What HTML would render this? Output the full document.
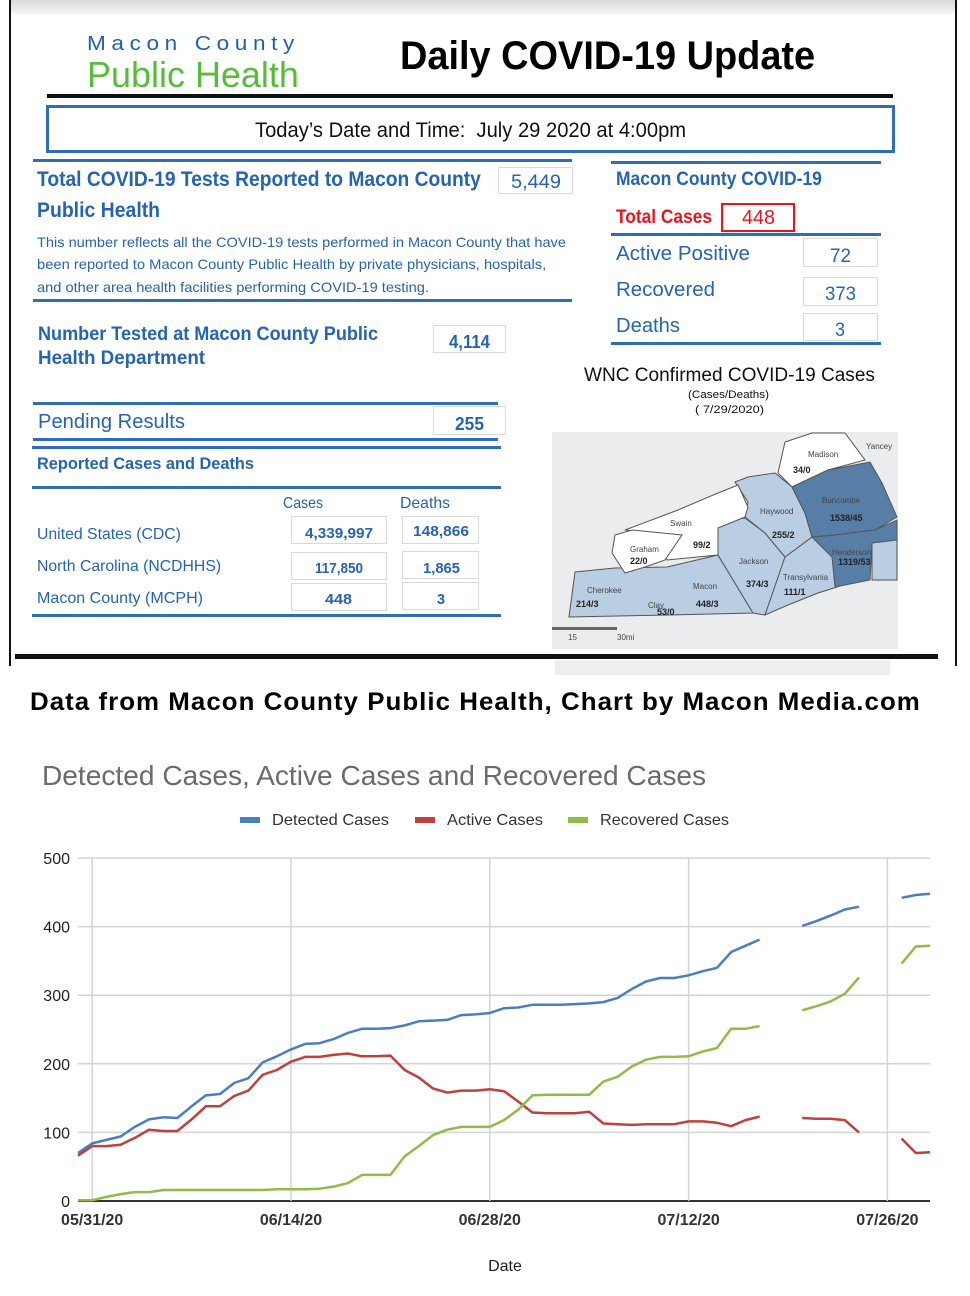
<!DOCTYPE html>
<html><head><meta charset="utf-8">
<style>
html,body{margin:0;padding:0;background:#fff;}
#root{position:relative;width:970px;height:1296px;overflow:hidden;background:#fff;font-family:"Liberation Sans",sans-serif;}
.t{position:absolute;white-space:nowrap;transform-origin:0 50%;line-height:1;}
.b{position:absolute;}
.box{position:absolute;border:1.5px solid #d6d9de;background:#fff;box-sizing:border-box;}
.blue{color:#2563b3;}
.hl{position:absolute;height:3px;background:#2e6db8;}
</style></head>
<body>
<div id="root">
  <div class="b" style="left:10px;top:0;width:945px;height:14px;background:linear-gradient(#d8d8d8,#f6f6f6)"></div>
  <div class="b" style="left:9px;top:0;width:2px;height:666px;background:#111"></div>
  <div class="b" style="left:955px;top:0;width:2px;height:666px;background:#111"></div>

  <div class="t" data-fit="213" style="left:87px;top:34px;font-size:20px;color:#2160b0;letter-spacing:5px">Macon County</div>
  <div class="t" data-fit="212" style="left:87px;top:57px;font-size:36px;color:#56bd3a">Public Health</div>
  <div class="t" data-fit="415" style="left:400px;top:36px;font-size:40px;font-weight:bold;color:#000">Daily COVID-19 Update</div>
  <div class="b" style="left:47px;top:94px;width:846px;height:4px;background:#111"></div>
  <div class="b" style="left:46px;top:105px;width:849px;height:48px;border:3px solid #2e6db8;box-sizing:border-box"></div>
  <div class="t" data-fit="431" style="left:255px;top:120px;font-size:21px;color:#111">Today’s Date and Time:&nbsp; July 29 2020 at 4:00pm</div>

  <div class="hl" style="left:33px;top:159px;width:539px"></div>
  <div class="t blue" data-fit="444" style="left:37px;top:169px;font-size:21px;font-weight:bold">Total COVID-19 Tests Reported to Macon County</div>
  <div class="box" style="left:498px;top:167px;width:75px;height:27px"></div>
  <div class="t blue" data-fit="50" style="left:511px;top:173px;font-size:19px">5,449</div>
  <div class="t blue" data-fit="123" style="left:37px;top:200px;font-size:21px;font-weight:bold">Public Health</div>
  <div class="t blue" data-fit="529" style="left:37px;top:235px;font-size:14px">This number reflects all the COVID-19 tests performed in Macon County that have</div>
  <div class="t blue" data-fit="509" style="left:37px;top:257px;font-size:14px">been reported to Macon County Public Health by private physicians, hospitals,</div>
  <div class="t blue" data-fit="392" style="left:37px;top:280px;font-size:14px">and other area health facilities performing COVID-19 testing.</div>
  <div class="hl" style="left:33px;top:299px;width:539px"></div>

  <div class="hl" style="left:611px;top:161px;width:270px"></div>
  <div class="t blue" data-fit="206" style="left:616px;top:170px;font-size:19px;font-weight:bold">Macon County COVID-19</div>
  <div class="t" data-fit="96" style="left:616px;top:208px;font-size:19px;font-weight:bold;color:#e8151b">Total Cases</div>
  <div class="b" style="left:721px;top:203px;width:74px;height:29px;border:2px solid #e8151b;box-sizing:border-box"></div>
  <div class="t" data-fit="33" style="left:742px;top:208px;font-size:20px;color:#e8151b">448</div>
  <div class="hl" style="left:611px;top:233px;width:270px"></div>
  <div class="t blue" data-fit="134" style="left:616px;top:244px;font-size:20px">Active Positive</div>
  <div class="box" style="left:803px;top:238px;width:75px;height:29px"></div>
  <div class="t blue" data-fit="21" style="left:830px;top:247px;font-size:19px">72</div>
  <div class="t blue" data-fit="99" style="left:616px;top:280px;font-size:20px">Recovered</div>
  <div class="box" style="left:803px;top:277px;width:75px;height:29px"></div>
  <div class="t blue" data-fit="31" style="left:825px;top:285px;font-size:19px">373</div>
  <div class="t blue" data-fit="64" style="left:616px;top:316px;font-size:20px">Deaths</div>
  <div class="box" style="left:803px;top:313px;width:75px;height:28px"></div>
  <div class="t blue" data-fit="10" style="left:835px;top:321px;font-size:19px">3</div>
  <div class="hl" style="left:611px;top:342px;width:270px"></div>

  <div class="t blue" data-fit="340" style="left:38px;top:325px;font-size:19px;font-weight:bold">Number Tested at Macon County Public</div>
  <div class="t blue" data-fit="167" style="left:38px;top:349px;font-size:19px;font-weight:bold">Health Department</div>
  <div class="box" style="left:433px;top:325px;width:73px;height:28px"></div>
  <div class="t blue" data-fit="41" style="left:449px;top:333px;font-size:18px;font-weight:bold">4,114</div>

  <div class="hl" style="left:33px;top:402px;width:465px"></div>
  <div class="t blue" data-fit="147" style="left:38px;top:412px;font-size:20px">Pending Results</div>
  <div class="box" style="left:433px;top:406px;width:73px;height:29px"></div>
  <div class="t blue" data-fit="29" style="left:455px;top:415px;font-size:18px;font-weight:bold">255</div>
  <div class="hl" style="left:33px;top:438px;width:465px"></div>
  <div class="hl" style="left:32px;top:446px;width:469px"></div>
  <div class="t blue" data-fit="217" style="left:37px;top:455px;font-size:17px;font-weight:bold">Reported Cases and Deaths</div>
  <div class="hl" style="left:32px;top:486px;width:469px"></div>
  <div class="t blue" data-fit="40" style="left:283px;top:496px;font-size:16px">Cases</div>
  <div class="t blue" data-fit="50" style="left:400px;top:496px;font-size:16px">Deaths</div>

  <div class="t blue" data-fit="144" style="left:37px;top:527px;font-size:16px">United States (CDC)</div>
  <div class="t blue" data-fit="184" style="left:37px;top:559px;font-size:16px">North Carolina (NCDHHS)</div>
  <div class="t blue" data-fit="166" style="left:37px;top:591px;font-size:16px">Macon County (MCPH)</div>
  <div class="box" style="left:291px;top:516px;width:96px;height:28px"></div>
  <div class="box" style="left:402px;top:516px;width:77px;height:28px"></div>
  <div class="box" style="left:291px;top:552px;width:96px;height:28px"></div>
  <div class="box" style="left:402px;top:551px;width:77px;height:28px"></div>
  <div class="box" style="left:291px;top:583px;width:96px;height:28px"></div>
  <div class="box" style="left:402px;top:582px;width:77px;height:28px"></div>
  <div class="t blue" data-fit="68" style="left:305px;top:526px;font-size:15px;font-weight:bold">4,339,997</div>
  <div class="t blue" data-fit="56" style="left:413px;top:524px;font-size:15px;font-weight:bold">148,866</div>
  <div class="t blue" data-fit="48" style="left:315px;top:561px;font-size:15px;font-weight:bold">117,850</div>
  <div class="t blue" data-fit="37" style="left:423px;top:561px;font-size:15px;font-weight:bold">1,865</div>
  <div class="t blue" data-fit="27" style="left:325px;top:592px;font-size:15px;font-weight:bold">448</div>
  <div class="t blue" data-fit="8" style="left:437px;top:592px;font-size:15px;font-weight:bold">3</div>
  <div class="hl" style="left:32px;top:614px;width:469px"></div>

  <div class="t" data-fit="291" style="left:584px;top:366px;font-size:19px;color:#111">WNC Confirmed COVID-19 Cases</div>
  <div class="t" data-fit="81" style="left:688px;top:390px;font-size:11px;color:#111">(Cases/Deaths)</div>
  <div class="t" data-fit="69" style="left:695px;top:405px;font-size:11px;color:#111">( 7/29/2020)</div>
  <svg class="b" style="left:0;top:0" width="970" height="700">
    <rect x="552" y="432" width="346" height="217" fill="#ebeced"/>
    <rect x="555" y="660" width="335" height="15" fill="#eeeeee"/>
    <g stroke="#555" stroke-width="1">
      <polygon fill="#ffffff" points="778,473 785,442 812,433 845,433 865,460 828,470 792,487"/>
      <polygon fill="#b9cee2" points="569,617 575,572 615,568 667,567 718,555 753,613 669,615"/>
      <polygon fill="#b9cee2" points="718,555 718,528 732,520 745,518 765,533 785,557 775,587 765,615 753,613"/>
      <polygon fill="#b9cee2" points="785,557 812,537 832,557 837,587 818,593 788,605 765,615"/>
      <polygon fill="#b9cee2" points="735,482 748,477 775,473 792,487 805,513 812,537 785,557 765,533 745,517 748,502"/>
      <polygon fill="#577ea6" points="792,487 828,470 870,462 882,483 897,517 875,530 835,535 812,537 805,513"/>
      <polygon fill="#577ea6" points="812,537 835,535 875,530 897,520 897,540 872,543 870,580 835,587 832,557"/>
      <polygon fill="#b9cee2" points="872,543 897,540 897,580 872,580"/>
      <polygon fill="#ffffff" points="625,530 678,510 718,493 738,485 748,507 745,517 718,528 718,555 667,560 665,552 682,535"/>
      <polygon fill="#ffffff" points="615,535 632,530 682,535 665,560 645,567 625,573 612,553"/>
    </g>
    <g font-family="Liberation Sans,sans-serif" font-size="8" fill="#444">
      <text x="808" y="457">Madison</text><text x="866" y="449">Yancey</text>
      <text x="822" y="503">Buncombe</text><text x="760" y="514">Haywood</text>
      <text x="670" y="526">Swain</text><text x="630" y="552">Graham</text>
      <text x="739" y="564">Jackson</text><text x="783" y="580">Transylvania</text>
      <text x="832" y="555">Henderson</text><text x="587" y="593">Cherokee</text>
      <text x="693" y="589">Macon</text><text x="648" y="608">Clay</text>
      <text x="568" y="640">15</text><text x="617" y="640">30mi</text>
    </g>
    <g font-family="Liberation Sans,sans-serif" font-size="9" font-weight="bold" fill="#222">
      <text x="793" y="473">34/0</text><text x="830" y="521">1538/45</text>
      <text x="772" y="538">255/2</text><text x="693" y="548">99/2</text>
      <text x="630" y="564">22/0</text><text x="746" y="587">374/3</text>
      <text x="784" y="595">111/1</text><text x="838" y="565">1319/53</text>
      <text x="576" y="607">214/3</text><text x="696" y="607">448/3</text>
      <text x="657" y="615">53/0</text>
    </g>
    <rect x="552" y="627" width="65" height="3" fill="#666"/>
  </svg>
  <div class="b" style="left:15px;top:654px;width:923px;height:5px;background:#111"></div>

  <div class="t" data-fit="891" style="left:30px;top:690px;font-size:25px;font-weight:bold;color:#000;letter-spacing:1px">Data from Macon County Public Health, Chart by Macon Media.com</div>
  <div class="t" data-fit="664" style="left:42px;top:762px;font-size:28px;color:#6b6b6b">Detected Cases, Active Cases and Recovered Cases</div>

  <svg id="chart" class="b" style="left:0;top:800px" width="970" height="496" viewBox="0 800 970 496"></svg>
</div>

<script>
const startLabel = "05/30/20";
const xTickLabels = ["05/31/20","06/14/20","06/28/20","07/12/20","07/26/20"];
const xTickDays = [1,15,29,43,57];
const yTicks = [0,100,200,300,400,500];
const seriesNames = ["Detected Cases","Active Cases","Recovered Cases"];
const detected = [70,84,89,94,108,119,122,121,138,154,156,172,179,202,211,221,229,230,236,245,251,251,252,256,262,263,264,271,272,274,281,282,286,286,286,287,288,290,296,309,320,325,325,329,335,340,363,372,381,null,null,401,408,416,425,429,null,null,442,446,448];
const active = [66,80,80,82,92,104,102,102,119,138,138,153,161,184,191,203,210,210,213,215,211,211,212,191,180,164,158,161,161,163,160,145,129,128,128,128,130,113,112,111,112,112,112,116,116,114,109,118,123,null,null,121,120,120,118,100,null,null,91,70,71];
const recovered = [1,1,6,10,13,13,16,16,16,16,16,16,16,16,17,17,17,18,21,26,38,38,38,65,80,96,104,108,108,108,118,133,154,155,155,155,155,174,181,196,206,210,210,211,218,223,251,251,255,null,null,278,284,291,302,326,null,null,346,371,372];
const colors = ["#4a7ec4","#c0403e","#8fbc47"];

const svg = document.getElementById('chart');
const NS = "http://www.w3.org/2000/svg";
const X0 = 78, DX = 14.2, Y0 = 1201, YMAX = 500, PH = 343, XR = 930;
function xs(d){ return X0 + d*DX; }
function ys(v){ return Y0 - v/YMAX*PH; }
function mk(tag, attrs, text){
  const e = document.createElementNS(NS, tag);
  for (const k in attrs) e.setAttribute(k, attrs[k]);
  if (text !== undefined) e.textContent = text;
  svg.appendChild(e); return e;
}
yTicks.forEach(v=>{
  const g = mk('line',{x1:X0,x2:XR,y1:ys(v),y2:ys(v),stroke:v===0?'#333':'#d4d4d4','stroke-width':v===0?2:1.5});
  
  
  const t = mk('text',{x:70,y:ys(v)+6,'text-anchor':'end','font-size':16,'font-family':'Liberation Sans,sans-serif',fill:'#222'}, String(v));
  
  
});
xTickDays.forEach((d,i)=>{
  const g = mk('line',{x1:xs(d),x2:xs(d),y1:ys(YMAX),y2:Y0,stroke:'#d4d4d4','stroke-width':1.5});
  
  
  const t = mk('text',{x:xs(d),y:1225,'text-anchor':'middle','font-size':16,'font-weight':'bold','font-family':'Liberation Sans,sans-serif',fill:'#333'}, xTickLabels[i]);
  
  
});
const xt = mk('text',{x:505,y:1271,'text-anchor':'middle','font-size':16,'font-family':'Liberation Sans,sans-serif',fill:'#222'},'Date');


[detected,active,recovered].forEach((arr,si)=>{
  let d = '', pen = false;
  arr.forEach((v,i)=>{
    if (v === null){ pen = false; return; }
    d += (pen?'L':'M') + xs(i).toFixed(1) + ',' + ys(v).toFixed(1);
    pen = true;
  });
  const p = mk('path',{d:d,fill:'none',stroke:colors[si],'stroke-width':2.5,'stroke-linejoin':'round'});
  
  
});
const legX = [240,415,568];
seriesNames.forEach((n,i)=>{
  const r = mk('rect',{x:legX[i],y:817,width:20,height:6,fill:colors[i]});
  
  
  const t = mk('text',{x:legX[i]+32,y:825,'font-size':16,'font-family':'Liberation Sans,sans-serif',fill:'#333',textLength:[117,96,129][i],lengthAdjust:'spacingAndGlyphs'}, n);
  
  
});

document.querySelectorAll('[data-fit]').forEach(el=>{
  const w = parseFloat(el.getAttribute('data-fit'));
  const cw = el.getBoundingClientRect().width;
  if (cw > 0) el.style.transform = 'scaleX(' + (w/cw).toFixed(3) + ')';
});
</script>
</body></html>
